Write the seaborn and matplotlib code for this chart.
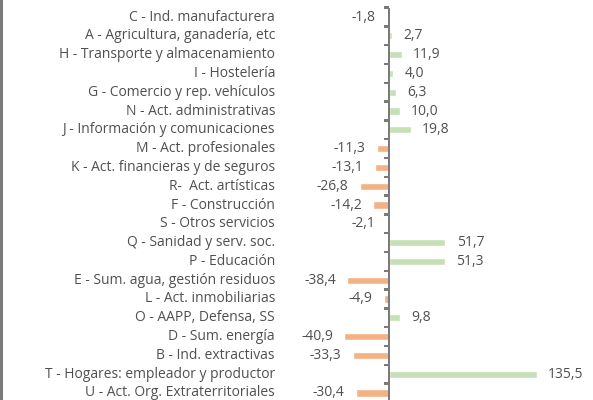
import numpy as np
import pandas as pd
import seaborn as sns
import matplotlib.pyplot as plt
from matplotlib.patches import Rectangle
from matplotlib.transforms import blended_transform_factory

# Data (top to bottom)
sectores = [
    "C - Ind. manufacturera",
    "A - Agricultura, ganadería, etc",
    "H - Transporte y almacenamiento",
    "I - Hostelería",
    "G - Comercio y rep. vehículos",
    "N - Act. administrativas",
    "J - Información y comunicaciones",
    "M - Act. profesionales",
    "K - Act. financieras y de seguros",
    "R-  Act. artísticas",
    "F - Construcción",
    "S - Otros servicios",
    "Q - Sanidad y serv. soc.",
    "P - Educación",
    "E - Sum. agua, gestión residuos",
    "L - Act. inmobiliarias",
    "O - AAPP, Defensa, SS",
    "D - Sum. energía",
    "B - Ind. extractivas",
    "T - Hogares: empleador y productor",
    "U - Act. Org. Extraterritoriales",
]
variacion = [-1.8, 2.7, 11.9, 4.0, 6.3, 10.0, 19.8, -11.3, -13.1, -26.8, -14.2,
             -2.1, 51.7, 51.3, -38.4, -4.9, 9.8, -40.9, -33.3, 135.5, -30.4]

df = pd.DataFrame({"sector": sectores, "valor": variacion})
df["signo"] = np.where(df["valor"] >= 0, "pos", "neg")

sns.set_style("white")
plt.rcParams["font.family"] = ["Open Sans", "DejaVu Sans"]

W, H = 593, 400
fig = plt.figure(figsize=(W / 100, H / 100), dpi=100)

# axes placement in pixels
ax_left, ax_right = 285, 593
zero_px = 389
scale = 1.092  # px per unit
top_px, bottom_px = 7.6, 402.4
ax = fig.add_axes([ax_left / W, 1 - bottom_px / H,
                   (ax_right - ax_left) / W, (bottom_px - top_px) / H])

sns.barplot(data=df, x="valor", y="sector", hue="signo", orient="h",
            palette={"pos": "#C5E0B4", "neg": "#F4B183"}, dodge=False,
            width=0.38, legend=False, ax=ax, saturation=1)

ax.set_xlim(-(zero_px - ax_left) / scale, (ax_right - zero_px) / scale)
ax.set_ylim(len(sectores) - 0.5, -0.5)

for s in ["top", "right", "bottom", "left"]:
    ax.spines[s].set_visible(False)
ax.set_xticks([])
ax.set_yticks([])
ax.set_xlabel("")
ax.set_ylabel("")

axis_grey = "#7a7a7a"
# zero axis line and boundary tick marks
ax.add_patch(Rectangle((-1.2 / scale, -0.5), 2.4 / scale, len(sectores),
                       facecolor=axis_grey, edgecolor="none", zorder=5))
for b in np.arange(-0.5, len(sectores), 1):
    ax.add_patch(Rectangle((-5.5 / scale, b - 0.06), 5.5 / scale, 0.12,
                           facecolor=axis_grey, edgecolor="none",
                           zorder=5, clip_on=False))

# category labels, right aligned at a fixed pixel column
lab_tr = blended_transform_factory(fig.transFigure, ax.transData)
for i, name in enumerate(sectores):
    ax.text(275 / W, i, name, transform=lab_tr, ha="right", va="center",
            fontsize=10, color="#505050")

for i, v in enumerate(variacion):
    txt = f"{v:.1f}".replace(".", ",")
    if v >= 0:
        ax.annotate(txt, (v, i), xytext=(8, 0), textcoords="offset points",
                    ha="left", va="center", fontsize=10, color="#505050")
    else:
        ax.annotate(txt, (v, i), xytext=(-8, 0), textcoords="offset points",
                    ha="right", va="center", fontsize=10, color="#505050")

# chart border at left edge
fig.add_artist(Rectangle((0, 0), 2.5 / W, 1, transform=fig.transFigure,
                         facecolor="#7a7a7a", edgecolor="none"))

fig.savefig("out.png", dpi=100)
